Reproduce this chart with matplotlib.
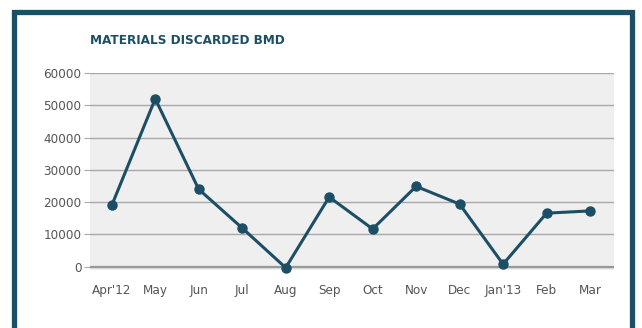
import numpy as np
import matplotlib.pyplot as plt
from matplotlib.patches import Rectangle

months = ["Apr'12", "May", "Jun", "Jul", "Aug", "Sep", "Oct",
          "Nov", "Dec", "Jan'13", "Feb", "Mar"]
discarded = [19000, 52000, 24000, 12000, -300, 21600, 11700,
             24900, 19400, 800, 16600, 17300]
yticks = [0, 10000, 20000, 30000, 40000, 50000, 60000]

teal = "#1c4f66"

fig = plt.figure(figsize=(6.42, 3.28), dpi=100)
W, H = 642, 328

# outer frame
fig.patches.append(Rectangle((14 / W, -0.1), (632 - 14) / W, 1.1 - 12 / H,
                             transform=fig.transFigure, fill=False,
                             edgecolor=teal, linewidth=3.8))

ax = fig.add_axes([90 / W, 1 - 270 / H, (614 - 90) / W, (270 - 73) / H])
ax.set_facecolor("#efefef")
x = np.arange(len(months))
ax.plot(x, discarded, color=teal, linewidth=2.2, marker="o",
        markersize=6.5, zorder=3, clip_on=False)

ax.set_xlim(-0.5, 11.55)
ax.set_ylim(-1000, 60000)
ax.set_yticks(yticks)
ax.set_yticklabels([str(v) for v in yticks], fontsize=9.6,
                   fontstretch="condensed", color="#555555")
ax.set_xticks(x)
ax.set_xticklabels(months, fontsize=9.6, fontstretch="condensed",
                   color="#555555")
ax.grid(axis="y", color="#a8a8a8", linewidth=1.0)
ax.axhline(0, color="#999999", linewidth=1.6, zorder=2)
ax.set_axisbelow(True)
for s in ax.spines.values():
    s.set_visible(False)
ax.tick_params(axis="y", length=4, color="#a8a8a8", pad=2)
ax.tick_params(axis="x", length=0, pad=10)

fig.text(90 / W, 1 - 40 / H, "MATERIALS DISCARDED BMD", color=teal,
         fontsize=9.6, fontweight="heavy", fontstretch="condensed",
         va="center")

fig.savefig("out.png", dpi=100)
